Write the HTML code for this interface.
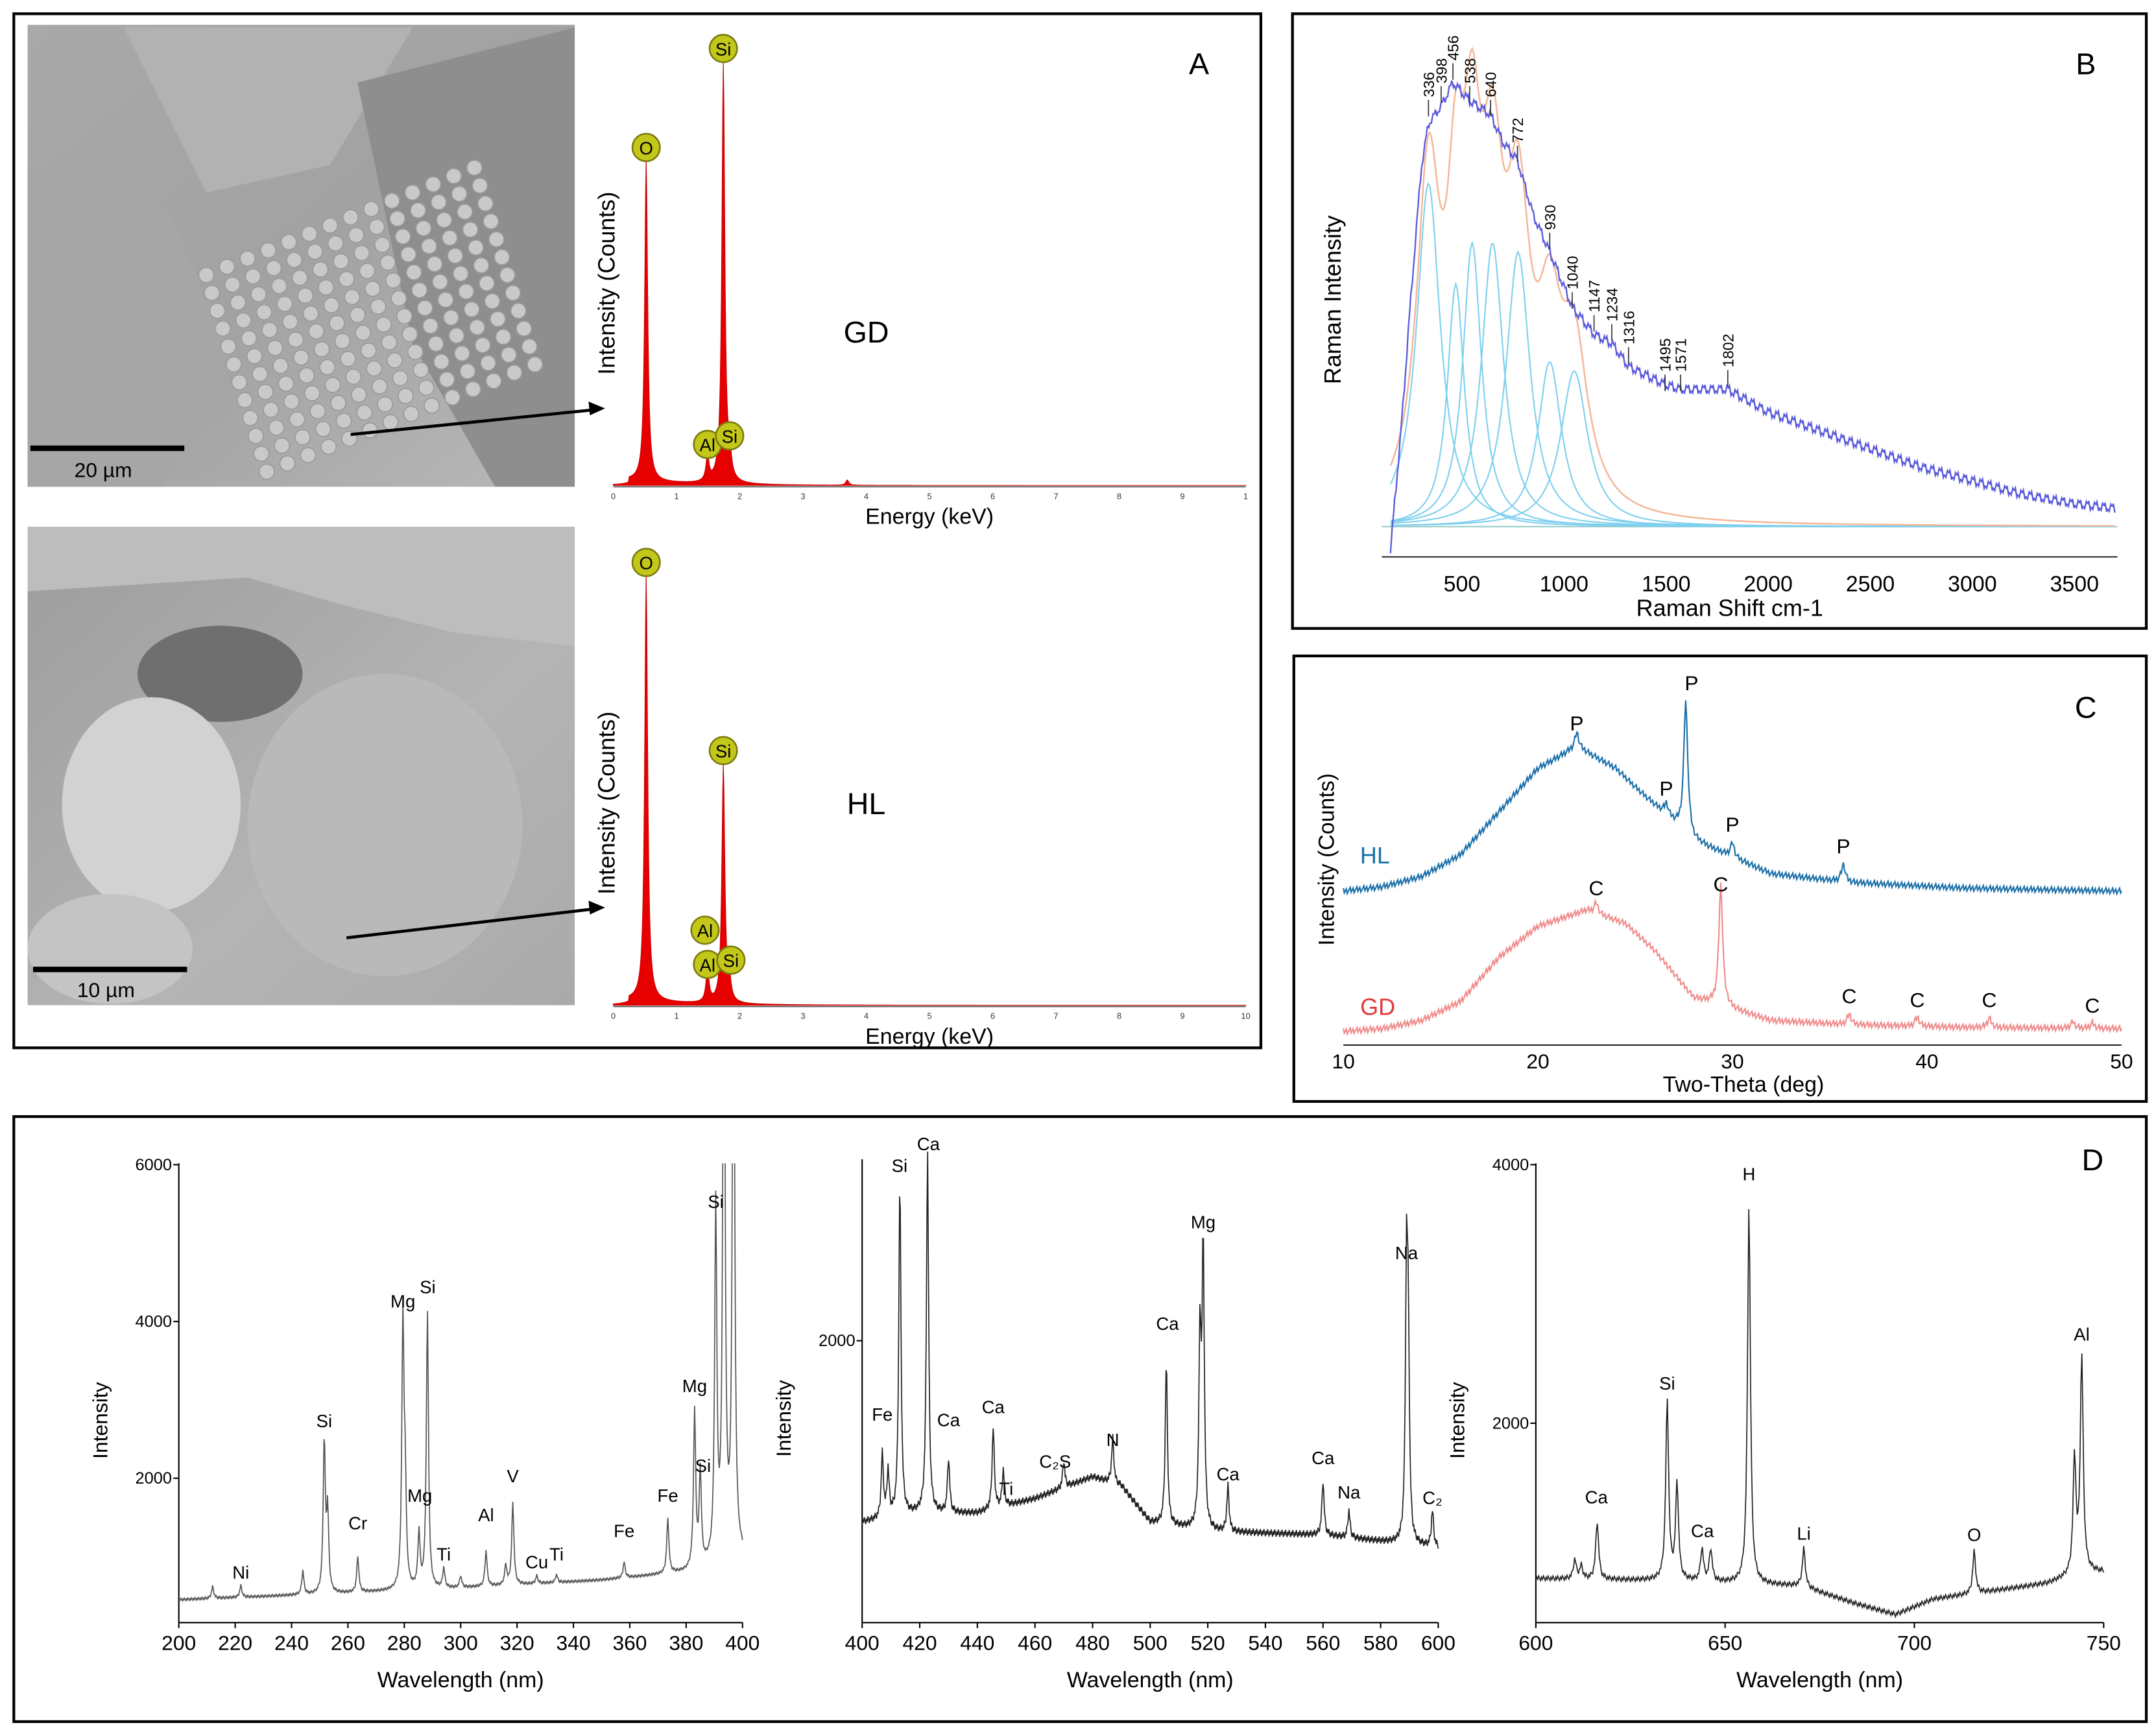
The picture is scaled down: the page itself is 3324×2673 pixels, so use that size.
<!DOCTYPE html>
<html><head><meta charset="utf-8">
<style>
html,body{margin:0;padding:0;background:#fff;}
svg{display:block;font-family:"Liberation Sans",Arial,sans-serif;}
</style></head>
<body>
<svg id="s" width="3324" height="2673" viewBox="0 0 1568 1261" xmlns="http://www.w3.org/2000/svg">
<defs>
<linearGradient id="g1" x1="0" y1="0" x2="1" y2="1"><stop offset="0" stop-color="#a9a9a9"/><stop offset="0.5" stop-color="#a2a2a2"/><stop offset="1" stop-color="#b8b8b8"/></linearGradient>
<linearGradient id="g2" x1="0" y1="0" x2="1" y2="1"><stop offset="0" stop-color="#9c9c9c"/><stop offset="0.6" stop-color="#b4b4b4"/><stop offset="1" stop-color="#aaaaaa"/></linearGradient>
<clipPath id="c1"><rect x="20" y="18" width="398" height="336"/></clipPath>
<clipPath id="c2"><rect x="20" y="383" width="398" height="348"/></clipPath>
<clipPath id="cd1"><rect x="130" y="846" width="412" height="340"/></clipPath>
</defs>
</svg>
<script>
// ---------- DATA ----------
const edsEnergyTicks = [0,1,2,3,4,5,6,7,8,9,10];
const edsGDPeaks = [[0.52,75],[1.49,6],[1.74,98],[1.84,5],[3.7,1.2]];
const edsHLPeaks = [[0.52,100],[1.49,8],[1.74,56],[1.84,4]];
const edsGDLabels = [["O",0.52,75],["Si",1.74,98],["Al",1.49,6],["Si",1.84,8]];
const edsHLLabels = [["O",0.52,100],["Si",1.74,56],["Al",1.45,14],["Al",1.49,6],["Si",1.86,7]];

const ramanRaw = [[150,-5],[200,20],[250,50],[300,78],[336,88],[400,92],[456,97],[538,93],[640,90],[700,84],[772,80],[850,68],[930,60],[1040,48],[1147,42],[1234,40],[1316,35],[1495,31],[1571,30],[1802,30],[2000,25],[2250,21],[2500,17],[2750,13],[3000,10],[3250,7],[3500,5],[3700,4]];
const ramanComps = [[336,75,70],[470,53,50],[550,62,55],[650,62,65],[775,60,70],[930,36,70],[1050,34,80]];
const ramanEnvelopeScale = [0.95];
const ramanLabels = [336,398,456,538,640,772,930,1040,1147,1234,1316,1495,1571,1802];
const ramanLabelH = [92,95,100,95,92,82,63,50,45,43,38,32,32,33];
const ramanTicks = [500,1000,1500,2000,2500,3000,3500];

const xrdTicks = [10,20,30,40,50];
const xrdHLBase = [[10,0],[12,3],[14,10],[16,25],[18,55],[20,85],[22,100],[24,85],[25,72],[28,35],[32,12],[36,6],[42,2],[50,0]];
const xrdHLPeaks = [[22,10],[26.6,8],[27.6,92],[30,10],[35.7,12]];
const xrdGDBase = [[10,0],[12,2],[14,8],[16,22],[18,55],[20,78],[22.5,90],[24.5,80],[26,60],[28,25],[32,8],[36,5],[42,3],[50,2]];
const xrdGDPeaks = [[23,8],[29.4,90],[36,8],[39.5,7],[43.2,7],[47.5,5],[48.5,4]];
const xrdHLLabels = [["P",22,115],["P",26.6,70],["P",27.9,143],["P",30,45],["P",35.7,30]];
const xrdGDLabels = [["C",23,105],["C",29.4,108],["C",36,25],["C",39.5,22],["C",43.2,22],["C",48.5,18]];

const d1Ticks = [200,220,240,260,280,300,320,340,360,380,400];
const d1YTicks = [2000,4000,6000];
const d1Base = [[200,450],[250,520],[300,600],[350,700],[380,800],[400,1000]];
const d1Peaks = [[212,150],[222,150],[244,300],[251.6,1950],[252.8,1000],[263.5,450],[279.5,3400],[280.3,1200],[285.2,700],[288.2,3550],[294,250],[300,150],[309,450],[316,250],[318.5,1050],[327,100],[334,100],[358,200],[373.5,700],[383,2000],[385,1200],[390.5,4500],[393.4,9000],[396.8,9000]];
const d1Labels = [["Ni",222,720],["Si",251.6,2650],["Cr",263.5,1350],["Mg",279.5,4180],["Si",288.3,4360],["Mg",285.5,1700],["Ti",294,950],["Al",309,1450],["V",318.5,1950],["Cu",327,850],["Ti",334,950],["Fe",358,1250],["Fe",373.5,1700],["Mg",383,3100],["Si",386,2080],["Si",390.5,5450]];

const d2Ticks = [400,420,440,460,480,500,520,540,560,580,600];
const d2YTicks = [2000];
const d2Base = [[400,1000],[420,1050],[440,1050],[460,1130],[480,1250],[490,1200],[500,1000],[520,950],[560,930],[600,860]];
const d2Peaks = [[407,350],[409,250],[413.1,1850],[422.7,2000],[430,300],[445.5,450],[449,200],[470,150],[487,250],[505.6,900],[517.3,1050],[518.4,1550],[527,250],[560,300],[569,150],[589,1450],[589.6,1000],[598,200]];
const d2Labels = [["Fe",407,1560],["Si",413,2930],["Ca",423,3050],["Ca",430,1530],["Ca",445.5,1600],["Ti",450,1150],["C₂S",467,1300],["N",487,1420],["Ca",506,2060],["Mg",518.4,2620],["Ca",527,1230],["Ca",560,1320],["Na",569,1130],["Na",589,2450],["C₂",598,1100]];

const d3Ticks = [600,650,700,750];
const d3YTicks = [2000,4000];
const d3Base = [[600,800],[640,780],[670,740],[685,600],[695,520],[705,640],[720,700],[735,760],[745,850]];
const d3Peaks = [[610.3,150],[612,100],[616.2,450],[634.7,1400],[637.3,750],[643.9,250],[646.2,250],[656.3,2950],[670.8,300],[715.8,330],[742.3,900],[744.2,1680]];
const d3Labels = [["Ca",616,1380],["Si",634.7,2260],["Ca",644,1120],["H",656.3,3880],["Li",670.8,1100],["O",715.8,1090],["Al",744.2,2640]];

// ---------- HELPERS ----------
const S = document.getElementById('s');
const NS = 'http://www.w3.org/2000/svg';
function mk(tag, attrs, name, parent){
  const el = document.createElementNS(NS, tag);
  for (const k in attrs) el.setAttribute(k, attrs[k]);
  
  
  (parent||S).appendChild(el);
  return el;
}
function txt(x,y,s,size,name,opt){
  opt=opt||{};
  const a={x:x,y:y,'font-size':size,fill:opt.fill||'#000','text-anchor':opt.anchor||'middle'};
  if(opt.rot) a.transform='rotate('+opt.rot+' '+x+' '+y+')';
  const t=mk('text',a,name,opt.parent);
  t.textContent=s; return t;
}
function interp(pts,x){
  if(x<=pts[0][0]) return pts[0][1];
  for(let i=1;i<pts.length;i++){ if(x<=pts[i][0]){const a=pts[i-1],b=pts[i];return a[1]+(b[1]-a[1])*(x-a[0])/(b[0]-a[0]);} }
  return pts[pts.length-1][1];
}
function lor(x,c,h,w){return h/(1+((x-c)/w)*((x-c)/w));}
function spec(x,peaks,base,w){let v=base?interp(base,x):0;for(const p of peaks) v+=lor(x,p[0],p[1],p[2]||w);return v;}
function box(x,y,w,h,name){mk('rect',{x:x,y:y,width:w,height:h,fill:'none',stroke:'#000','stroke-width':2},name);}

// ---------- PANEL BOXES ----------
box(10,10,907,752,'panel-a-frame');
box(940,10,621,447,'panel-b-frame');
box(941,477,620,324,'panel-c-frame');
box(10,812,1551,440,'panel-d-frame');

// ---------- SEM images ----------
function sem(x,y,w,h,clip,grad,name,spheres){
  const g=mk('g',{'clip-path':'url(#'+clip+')'},name);
  mk('rect',{x:x,y:y,width:w,height:h,fill:'url(#'+grad+')'},'sem-background',g);
  spheres(g);
}
sem(20,18,398,336,'c1','g1','sem-image-gd',function(g){
  mk('path',{d:'M20 120 L120 150 L170 260 L120 354 L20 354 Z',fill:'#a6a6a6'},'smooth-surface',g);
  mk('path',{d:'M90 20 L300 20 L240 120 L150 140 Z',fill:'#b2b2b2'},'fracture-plate',g);
  mk('path',{d:'M260 60 L418 20 L418 354 L360 354 L300 250 Z',fill:'#8e8e8e'},'dark-region',g);
  for(let i=0;i<14;i++)for(let j=0;j<12;j++){
    const cx=150+i*15+j*4, cy=200+j*13-i*6;
    if(cx>20&&cx<418&&cy>18&&cy<354) mk('circle',{cx:cx,cy:cy,r:5.5,fill:'#c9c9c9',stroke:'#9a9a9a','stroke-width':0.8},'microsphere',g);
  }
});
sem(20,383,398,348,'c2','g2','sem-image-hl',function(g){
  mk('path',{d:'M20 383 L418 383 L418 470 L330 460 L250 440 L180 420 L20 430 Z',fill:'#bdbdbd'},'top-crust',g);
  mk('ellipse',{cx:160,cy:490,rx:60,ry:35,fill:'#6f6f6f'},'dark-cavity',g);
  mk('ellipse',{cx:280,cy:600,rx:100,ry:110,fill:'#b9b9b9'},'hazy-region',g);
  mk('ellipse',{cx:110,cy:585,rx:65,ry:78,fill:'#d2d2d2'},'agglomerate',g);
  mk('ellipse',{cx:80,cy:690,rx:60,ry:40,fill:'#c4c4c4'},'lower-grains',g);
});
mk('rect',{x:22,y:324,width:112,height:4,fill:'#000'},'scale-bar-gd');
txt(75,347,'20 µm',15,'scale-label-gd',{});
mk('rect',{x:24,y:703,width:112,height:4,fill:'#000'},'scale-bar-hl');
txt(77,725,'10 µm',15,'scale-label-hl',{});
function arrow(x1,y1,x2,y2,name){
  mk('line',{x1:x1,y1:y1,x2:x2-8,y2:y2+1,stroke:'#000','stroke-width':2.2},name);
  mk('path',{d:'M'+x2+' '+y2+' l-12 -5 l1 10 z',fill:'#000'},name+'-head');
}
arrow(255,316,440,297,'arrow-gd');
arrow(252,682,440,660,'arrow-hl');

// ---------- EDS ----------
function eds(base,topPx,peaks,labels,lastTick,prefix,label,labelY){
  const X=e=>446+e*46, Y=v=>base-v*topPx/100;
  let d='M'+X(0)+' '+base;
  for(let e=0;e<=10;e+=0.01){const v=(e<0.25?0:1.2*Math.exp(-(e-0.25)))+spec(e,peaks,null,0.028); d+=' L'+X(e).toFixed(2)+' '+Y(v).toFixed(2);}
  d+=' L'+X(10)+' '+base+' Z';
  mk('path',{d:d,fill:'#e60000',stroke:'#cc0000','stroke-width':0.5},prefix+'-spectrum');
  mk('line',{x1:446,y1:base+1,x2:906,y2:base+1,stroke:'#555','stroke-width':0.8},prefix+'-x-axis');
  edsEnergyTicks.forEach((t,i)=>txt(X(t),base+10,(i==10?lastTick:String(t)),6,prefix+'-tick',{fill:'#333'}));
  txt(676,base+28,'Energy (keV)',16,prefix+'-x-title',{});
  txt(447,base-147,'Intensity (Counts)',17,prefix+'-y-title',{rot:-90});
  labels.forEach(l=>{
    const cx=X(l[1]), cy=Y(l[2])-11;
    mk('circle',{cx:cx,cy:cy,r:10,fill:'#c3c71a',stroke:'#7a7a10','stroke-width':1.2},prefix+'-element-marker');
    txt(cx,cy+5,l[0],13,prefix+'-element-label',{});
  });
  txt(630,labelY,label,22,prefix+'-sample-label',{});
}
eds(353,313,edsGDPeaks,edsGDLabels,'1','eds-gd','GD',249);
eds(731,311,edsHLPeaks,edsHLLabels,'10','eds-hl','HL',592);
txt(872,54,'A',22,'panel-a-letter',{});

// ---------- RAMAN ----------
const XR=v=>989+v*0.1485, YR=i=>383-i*3.33;
mk('line',{x1:1005,y1:383,x2:1540,y2:383,stroke:'#9cc',"stroke-width":1},'raman-baseline');
ramanComps.forEach(c=>{
  let d='';for(let v=150;v<=3700;v+=8){d+=(d?' L':'M')+XR(v).toFixed(1)+' '+YR(lor(v,c[0],c[1],c[2])).toFixed(1);}
  mk('path',{d:d,fill:'none',stroke:'#7fd0ee','stroke-width':1},'raman-fit-component');
});
{let d='';for(let v=150;v<=3700;v+=8){d+=(d?' L':'M')+XR(v).toFixed(1)+' '+YR(ramanEnvelopeScale[0]*spec(v,ramanComps,null)).toFixed(1);}
 mk('path',{d:d,fill:'none',stroke:'#f4b89a','stroke-width':1.2},'raman-fit-envelope');}
{let d='';let k=0;for(let v=150;v<=3700;v+=4,k++){const j=((k*7)%5-2)*(k%2?1.6:-1.3);d+=(d?' L':'M')+XR(v).toFixed(1)+' '+(YR(interp(ramanRaw,v))+j).toFixed(1);}
 mk('path',{d:d,fill:'none',stroke:'#5b5bdc','stroke-width':1.1},'raman-spectrum');}
ramanLabels.forEach((l,i)=>{
  const x=XR(l),y=YR(ramanLabelH[i])-4;
  mk('line',{x1:x,y1:y,x2:x,y2:y+12,stroke:'#333','stroke-width':0.8},'raman-peak-tick');
  txt(x+4,y-2,String(l),11,'raman-peak-label',{rot:-90,anchor:'start'});
});
mk('line',{x1:1005,y1:405,x2:1540,y2:405,stroke:'#000','stroke-width':0.8},'raman-x-axis');
ramanTicks.forEach(t=>txt(XR(t),430,String(t),16,'raman-x-tick',{}));
txt(1258,448,'Raman Shift cm-1',17,'raman-x-title',{});
txt(975,218,'Raman Intensity',17,'raman-y-title',{rot:-90});
txt(1517,54,'B',22,'panel-b-letter',{});

// ---------- XRD ----------
const XC=t=>977+(t-10)*14.15;
function xrd(base,scale,bpts,peaks,color,name){
  let d='';let k=0;for(let t=10;t<=50;t+=0.05,k++){const j=((k*5)%7-3)*0.7;d+=(d?' L':'M')+XC(t).toFixed(1)+' '+(base-scale*spec(t,peaks,bpts,0.12)+j).toFixed(1);}
  mk('path',{d:d,fill:'none',stroke:color,'stroke-width':1},name);
}
xrd(648,1.05,xrdHLBase,xrdHLPeaks,'#1a6fa8','xrd-hl-trace');
xrd(750,0.98,xrdGDBase,xrdGDPeaks,'#f08a8a','xrd-gd-trace');
xrdHLLabels.forEach(l=>txt(XC(l[1]),648-l[2]*1.05+4,l[0],15,'xrd-phase-label-p',{}));
xrdGDLabels.forEach(l=>txt(XC(l[1]),750-l[2]*0.98+4,l[0],15,'xrd-phase-label-c',{}));
txt(1000,628,'HL',17,'xrd-hl-label',{fill:'#1a6fa8'});
txt(1002,738,'GD',17,'xrd-gd-label',{fill:'#e0393c'});
mk('line',{x1:977,y1:760,x2:1543,y2:760,stroke:'#000','stroke-width':0.8},'xrd-x-axis');
xrdTicks.forEach(t=>txt(XC(t),777,String(t),15,'xrd-x-tick',{}));
txt(1268,794,'Two-Theta (deg)',16,'xrd-x-title',{});
txt(970,625,'Intensity (Counts)',16,'xrd-y-title',{rot:-90});
txt(1517,522,'C',22,'panel-c-letter',{});

// ---------- LIBS ----------
function libs(o){
  const X=w=>o.x0+(w-o.w0)*(o.x1-o.x0)/(o.w1-o.w0), Y=v=>o.y0-v*o.ppu;
  mk('line',{x1:o.x0,y1:o.top,x2:o.x0,y2:o.bot,stroke:'#000','stroke-width':1},o.n+'-y-axis');
  mk('line',{x1:o.x0,y1:o.bot,x2:o.x1,y2:o.bot,stroke:'#000','stroke-width':1},o.n+'-x-axis');
  o.ticks.forEach(t=>{mk('line',{x1:X(t),y1:o.bot,x2:X(t),y2:o.bot+4,stroke:'#000'},o.n+'-x-tickmark');txt(X(t),o.bot+20,String(t),15,o.n+'-x-tick',{});});
  o.yt.forEach(t=>{mk('line',{x1:o.x0-4,y1:Y(t),x2:o.x0,y2:Y(t),stroke:'#000'},o.n+'-y-tickmark');txt(o.x0-5,Y(t)+4,String(t),12,o.n+'-y-tick',{anchor:'end'});});
  let d='';let k=0;for(let w=o.w0;w<=o.w1;w+=0.25,k++){const j=((k*3)%5-2)*o.noise;d+=(d?' L':'M')+X(w).toFixed(2)+' '+Y(spec(w,o.peaks,o.base,0.45)+j).toFixed(2);}
  const g=mk('g',o.clip?{'clip-path':'url(#'+o.clip+')'}:{},o.n+'-group');
  mk('path',{d:d,fill:'none',stroke:o.col||'#222','stroke-width':0.8},o.n+'-spectrum',g);
  o.labels.forEach(l=>txt(X(l[1]),Y(l[2]),l[0],13,o.n+'-line-label',{}));
  txt((o.x0+o.x1)/2,o.bot+47,'Wavelength (nm)',16,o.n+'-x-title',{});
  txt(o.x0-52,(o.top+o.bot)/2+20,'Intensity',15,o.n+'-y-title',{rot:-90});
}
libs({n:'libs-uv',x0:130,x1:540,w0:200,w1:400,y0:1189,ppu:0.057,top:846,bot:1180,ticks:d1Ticks,yt:d1YTicks,peaks:d1Peaks,base:d1Base,labels:d1Labels,noise:8,clip:'cd1',col:'#555'});
libs({n:'libs-vis',x0:627,x1:1046,w0:400,w1:600,y0:1239,ppu:0.132,top:843,bot:1180,ticks:d2Ticks,yt:d2YTicks,peaks:d2Peaks,base:d2Base,labels:d2Labels,noise:10});
libs({n:'libs-nir',x0:1117,x1:1530,w0:600,w1:750,y0:1223,ppu:0.094,top:846,bot:1180,ticks:d3Ticks,yt:d3YTicks,peaks:d3Peaks,base:d3Base,labels:d3Labels,noise:9});
txt(1522,851,'D',22,'panel-d-letter',{});
</script>
</body></html>
